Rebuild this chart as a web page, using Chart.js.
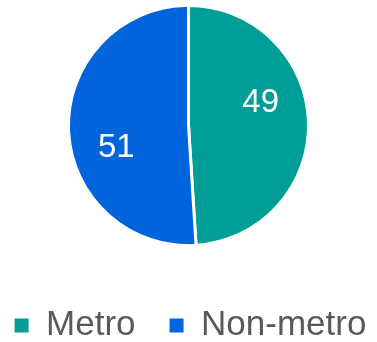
<!DOCTYPE html>
<html>
<head>
<meta charset="utf-8">
<script src="https://cdn.jsdelivr.net/npm/chart.js@4/dist/chart.umd.min.js"></script>
<style>
    html, body {
        margin: 0;
        padding: 0;
        background: #ffffff;
        overflow: hidden;
    }

    /* canvas starts above the page top so the pie sits higher over the legend */
    #wrap {
        width: 377px;
        height: 365px;
        margin-top: -23px;
        position: relative;
    }
</style>
</head>
<body>
<div id="wrap">
    <canvas id="areaPie"></canvas>
</div>
<script>

const areaLabels = ["Metro", "Non-metro"];

const areaShares = [49, 51];

const areaColors = ["#009E96", "#0064DC"];

// writes the share value inside each slice, nudged a bit counter-clockwise
const sliceValues = {

    id: "sliceValues",

    afterDatasetsDraw(chart) {

        const ctx = chart.ctx;
        const meta = chart.getDatasetMeta(0);

        ctx.save();
        ctx.font = "33px 'Liberation Sans', Arial, sans-serif";
        ctx.fillStyle = "#ffffff";
        ctx.textAlign = "center";
        ctx.textBaseline = "middle";

        meta.data.forEach((arc, i) => {

            const p = arc.getProps(
                ["x", "y", "startAngle", "endAngle", "outerRadius"],
                true
            );

            const mid = (p.startAngle + p.endAngle) / 2 - 0.27;
            const dist = p.outerRadius * 0.63;

            ctx.fillText(
                String(areaShares[i]),
                p.x + Math.cos(mid) * dist,
                p.y + Math.sin(mid) * dist
            );

        });

        ctx.restore();

    },

};

const canvas = document.getElementById("areaPie");

new Chart(canvas, {

    type: "pie",

    data: {

        labels: areaLabels,

        datasets: [{

            data: areaShares,

            backgroundColor: areaColors,

            borderColor: "#ffffff",

            borderWidth: 3,

        }],

    },

    options: {

        responsive: true,

        maintainAspectRatio: false,

        animation: false,

        radius: 120,

        // negative sides give the legend room to stay on one row
        layout: {
            padding: {
                top: 0,
                bottom: -11,
                left: -22,
                right: -26,
            },
        },

        plugins: {

            legend: {

                display: true,

                position: "bottom",

                labels: {

                    boxWidth: 14,

                    boxHeight: 14,

                    padding: 34,

                    color: "#595959",

                    font: {
                        family: "'Liberation Sans', Arial, sans-serif",
                        size: 35,
                    },

                    // plain squares, without the white slice border
                    generateLabels(chart) {

                        const base =
                            Chart.overrides.doughnut.plugins.legend.labels.generateLabels;

                        return base(chart).map((item) => ({
                            ...item,
                            strokeStyle: item.fillStyle,
                            lineWidth: 0,
                        }));

                    },

                },

            },

            tooltip: {
                enabled: false,
            },

        },

    },

    plugins: [sliceValues],

});

</script>
</body>
</html>
